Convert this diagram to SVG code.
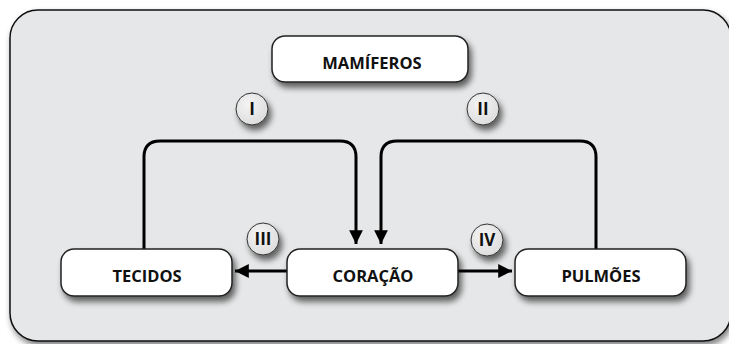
<svg xmlns="http://www.w3.org/2000/svg" width="729" height="344" viewBox="0 0 729 344">
<defs>
<filter id="sh" x="-20%" y="-30%" width="150%" height="170%">
<feGaussianBlur in="SourceAlpha" stdDeviation="3"/>
<feOffset dx="3" dy="5" result="b"/>
<feComponentTransfer><feFuncA type="linear" slope="0.6"/></feComponentTransfer>
<feMerge><feMergeNode/><feMergeNode in="SourceGraphic"/></feMerge>
</filter>
<filter id="shp" x="-5%" y="-5%" width="110%" height="115%">
<feGaussianBlur in="SourceAlpha" stdDeviation="3"/>
<feOffset dx="2" dy="4" result="b"/>
<feComponentTransfer><feFuncA type="linear" slope="0.5"/></feComponentTransfer>
<feMerge><feMergeNode/><feMergeNode in="SourceGraphic"/></feMerge>
</filter>
<radialGradient id="cg" cx="40%" cy="35%" r="70%">
<stop offset="0" stop-color="#f4f4f4"/>
<stop offset="1" stop-color="#dcdcdc"/>
</radialGradient>
<marker id="ah" viewBox="0 0 10 10" refX="10" refY="5" markerWidth="4.6" markerHeight="4.6" markerUnits="strokeWidth" orient="auto">
<path d="M0,0 L10,5 L0,10 z" fill="#000"/>
</marker>
</defs>
<style>
.panel{fill:#e6e7e8;stroke:#111;stroke-width:1.5}
.box{fill:#fff;stroke:#222;stroke-width:1.5}
.lbl{font-family:"Open Sans","Liberation Sans",sans-serif;font-weight:700;font-size:16.5px;fill:#111;text-anchor:middle}
.num{font-family:"Open Sans","Liberation Sans",sans-serif;font-weight:700;font-size:17px;fill:#111;text-anchor:middle}
.circ{fill:url(#cg);stroke:#333;stroke-width:1}
.conn{fill:none;stroke:#000;stroke-width:3}
</style>
<rect class="panel" x="10" y="10" width="721" height="331" rx="28" filter="url(#shp)"/>
<g id="connectors">
<path class="conn" d="M144,257 V157 Q144,141 160,141 H340 Q356,141 356,157 V244" marker-end="url(#ah)"/>
<path class="conn" d="M596,257 V157 Q596,141 580,141 H397 Q381,141 381,157 V244" marker-end="url(#ah)"/>
<path class="conn" d="M306,271 H235" marker-end="url(#ah)"/>
<path class="conn" d="M441,271 H512" marker-end="url(#ah)"/>
</g>
<g id="mamiferos">
<rect class="box" x="272" y="36" width="196" height="46" rx="13" filter="url(#sh)"/>
<text class="lbl" x="372" y="69">MAMÍFEROS</text>
</g>
<g id="tecidos">
<rect class="box" x="61" y="249" width="171" height="47" rx="13" filter="url(#sh)"/>
<text class="lbl" x="147" y="282">TECIDOS</text>
</g>
<g id="coracao">
<rect class="box" x="287" y="249" width="171" height="47" rx="13" filter="url(#sh)"/>
<text class="lbl" x="373" y="282">CORAÇÃO</text>
</g>
<g id="pulmoes">
<rect class="box" x="515" y="249" width="171" height="47" rx="13" filter="url(#sh)"/>
<text class="lbl" x="601" y="282">PULMÕES</text>
</g>
<g id="label-I">
<circle class="circ" cx="252" cy="109" r="16" filter="url(#sh)"/>
<text class="num" x="252" y="115">I</text>
</g>
<g id="label-II">
<circle class="circ" cx="483" cy="109" r="16" filter="url(#sh)"/>
<text class="num" x="483" y="115">II</text>
</g>
<g id="label-III">
<circle class="circ" cx="263" cy="239" r="16" filter="url(#sh)"/>
<text class="num" x="263" y="245">III</text>
</g>
<g id="label-IV">
<circle class="circ" cx="487" cy="240" r="16" filter="url(#sh)"/>
<text class="num" x="487" y="246">IV</text>
</g>
</svg>
